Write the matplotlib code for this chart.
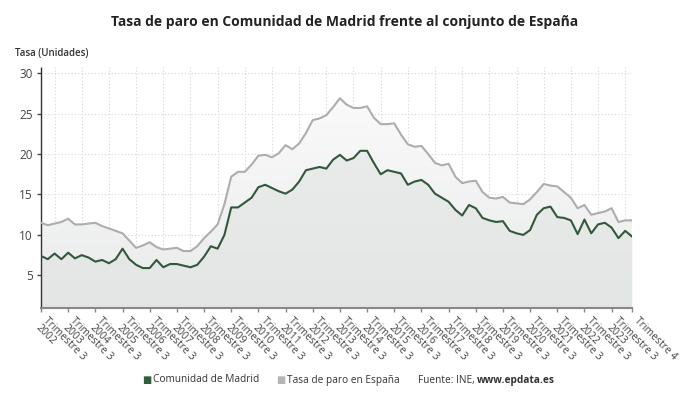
import matplotlib
matplotlib.use('Agg')
import matplotlib.pyplot as plt
import numpy as np

# Quarterly unemployment rate, 2002 Q1 - 2023 Q4
years = list(range(2002, 2024))
madrid = [7.4, 7.0, 7.7, 7.0, 7.8, 7.1, 7.5, 7.2, 6.7, 6.9, 6.5, 7.0,
          8.3, 7.0, 6.3, 5.9, 5.9, 6.9, 6.0, 6.4, 6.4, 6.2, 6.0, 6.3,
          7.3, 8.6, 8.3, 10.0, 13.4, 13.4, 14.0, 14.6, 15.9, 16.2, 15.8, 15.4,
          15.1, 15.6, 16.6, 18.0, 18.2, 18.4, 18.2, 19.3, 19.9, 19.2, 19.5, 20.4,
          20.4, 18.9, 17.5, 18.0, 17.8, 17.6, 16.2, 16.6, 16.8, 16.2, 15.1, 14.6,
          14.1, 13.1, 12.4, 13.7, 13.3, 12.1, 11.8, 11.6, 11.7, 10.5, 10.2, 10.0,
          10.6, 12.5, 13.3, 13.5, 12.2, 12.1, 11.8, 10.1, 11.9, 10.2, 11.3, 11.5,
          10.9, 9.6, 10.5, 9.8]
espana = [11.5, 11.2, 11.4, 11.6, 12.0, 11.3, 11.3, 11.4, 11.5, 11.1, 10.8, 10.5,
          10.2, 9.3, 8.4, 8.7, 9.1, 8.5, 8.2, 8.3, 8.4, 8.0, 8.0, 8.6,
          9.6, 10.4, 11.3, 13.8, 17.2, 17.8, 17.8, 18.7, 19.8, 19.9, 19.6, 20.1,
          21.1, 20.6, 21.3, 22.6, 24.2, 24.4, 24.8, 25.8, 26.9, 26.1, 25.7, 25.7,
          25.9, 24.5, 23.7, 23.7, 23.8, 22.4, 21.2, 20.9, 21.0, 20.0, 18.9, 18.6,
          18.8, 17.2, 16.4, 16.6, 16.7, 15.3, 14.6, 14.5, 14.7, 14.0, 13.9, 13.8,
          14.4, 15.3, 16.3, 16.1, 16.0, 15.3, 14.6, 13.3, 13.7, 12.5, 12.7, 12.9,
          13.3, 11.6, 11.8, 11.8]

tick_labels = [f'Trimestre 3\n{y}' for y in years] + ['Trimestre 4\n ']

plt.rcParams['font.family'] = ['Open Sans', 'DejaVu Sans']

fig = plt.figure(figsize=(6.9, 4.05), dpi=100)
ax = fig.add_axes([41 / 690, 1 - 307.7 / 405, 591 / 690, 241 / 405])

x = np.arange(len(madrid))
ymin, ymax = 1.0, 30.8

# gradient under the Spain line
spain_fill = ax.fill_between(x, espana, ymin, color='none', lw=0)
grad = np.linspace(0, 1, 256).reshape(-1, 1)
img = ax.imshow(grad, extent=[0, len(x) - 1, ymin, ymax], origin='upper',
                cmap=matplotlib.colors.LinearSegmentedColormap.from_list('g', ['#fcfcfc', '#e9ebea']),
                aspect='auto', zorder=1)
img.set_clip_path(spain_fill.get_paths()[0], transform=ax.transData)
ax.fill_between(x, madrid, ymin, color='#dfe3e0', alpha=0.55, lw=0, zorder=1.5)

ax.plot(x, espana, color='#adadad', lw=1.5, zorder=3)
ax.plot(x, madrid, color='#33573d', lw=1.5, zorder=4)

ax.set_xlim(0, len(x) - 1)
ax.set_ylim(ymin, ymax)

ax.set_yticks([5, 10, 15, 20, 25, 30])
ax.set_xticks(np.arange(0, len(x), 2), minor=True)
ticks = list(range(0, len(x) - 3, 4)) + [len(x) - 1]
ax.set_xticks(ticks)
ax.set_xticklabels(tick_labels, rotation=-45, ha='left', va='center',
                   rotation_mode='anchor', fontsize=7.5, color='#444444',
                   linespacing=1.0)
for lab in ax.get_xticklabels():
    lab.set_y(-0.025)

ax.grid(True, which='minor', axis='x', color='#dadada', ls=(0, (1.2, 1.8)), lw=0.8)
ax.grid(True, which='major', axis='y', color='#dadada', ls=(0, (1.2, 1.8)), lw=0.8)
ax.set_axisbelow(True)

ax.tick_params(axis='y', labelsize=8.5, colors='#444444', length=3, width=1, pad=3)
ax.tick_params(axis='x', which='major', length=3, width=1, colors='#888888', labelcolor='#444444')
ax.tick_params(axis='x', which='minor', length=0)

for s in ['top', 'right']:
    ax.spines[s].set_visible(False)
ax.spines['left'].set_color('#333333')
ax.spines['left'].set_linestyle((0, (2, 1)))
ax.spines['left'].set_linewidth(1.0)
ax.spines['bottom'].set_color('#888888')
ax.spines['bottom'].set_linewidth(1.5)

fig.text(0.5, 1 - 22 / 405, 'Tasa de paro en Comunidad de Madrid frente al conjunto de España',
         ha='center', va='center', fontsize=10, fontweight='bold', color='#222222')
fig.text(15 / 690, 1 - 54 / 405, 'Tasa (Unidades)', ha='left', va='center',
         fontsize=7, fontweight='semibold', color='#333333')

# legend / source line
ly = 1 - 380 / 405
fig.text(142 / 690, ly, '■', ha='left', va='center', fontsize=7,
         color='#2e5e3a', family='DejaVu Sans')
fig.text(153 / 690, ly, 'Comunidad de Madrid', ha='left', va='center', fontsize=7.3, color='#333333')
fig.text(276 / 690, ly, '■', ha='left', va='center', fontsize=7,
         color='#b5b5b5', family='DejaVu Sans')
fig.text(287 / 690, ly, 'Tasa de paro en España', ha='left', va='center', fontsize=7.3, color='#333333')
t = fig.text(418 / 690, ly, 'Fuente: INE, ', ha='left', va='center', fontsize=7.3, color='#333333')
fig.canvas.draw()
bb = t.get_window_extent()
fig.text(bb.x1 / 690, ly, 'www.epdata.es', ha='left', va='center', fontsize=7.3,
         fontweight='bold', color='#333333')

fig.savefig('out.png', dpi=100)
